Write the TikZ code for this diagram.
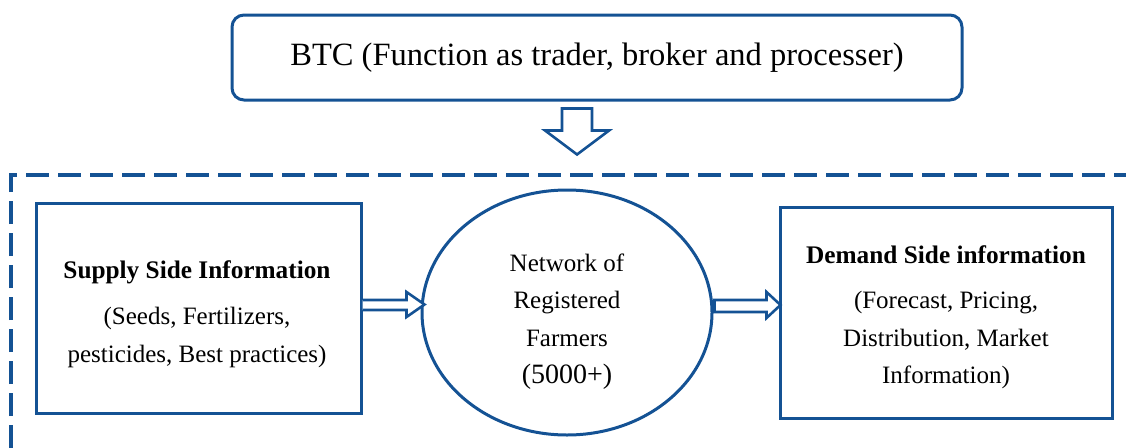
\documentclass[tikz,border=0pt]{standalone}
\usepackage{fontspec}
\setmainfont{Liberation Serif}
\usetikzlibrary{shapes.geometric,calc}
\definecolor{bblue}{RGB}{20,82,148}
\tikzset{
  box/.style={draw=bblue, line width=3pt, rectangle, inner sep=0pt, align=center},
  blockarrow/.style={draw=bblue, line width=2.6pt, fill=white, line join=miter},
  bodytext/.style={font=\fontsize{25}{37.5}\selectfont},
  headtext/.style={font=\bfseries\fontsize{25.3}{28}\selectfont}
}
\begin{document}
\begin{tikzpicture}[x=1pt,y=-1pt]
\useasboundingbox (0,0) rectangle (1126,447);
\clip (0,0) rectangle (1126,447);
% dashed frame
\coordinate (fr) at (11,175);
\draw[bblue, line width=3.4pt, dash pattern=on 23pt off 9pt] (11,480) -- (fr) -- (1150,175);
% top box
\node[box, rounded corners=12pt, minimum width=730pt, minimum height=85pt,
      font=\fontsize{32.5}{36}\selectfont] (btc) at (597,57.5)
  {BTC (Function as trader, broker and processer)};
% supply box
\node[box, minimum width=325pt, minimum height=210pt] (sup) at (198.5,308) {};
\node[headtext] (supt) at (197,272) {Supply Side Information};
\node[bodytext, align=center] (supb) at (197,337.5) {(Seeds, Fertilizers,\\pesticides, Best practices)};
% ellipse
\node[ellipse, draw=bblue, line width=3pt, minimum width=290pt, minimum height=245pt, inner sep=0pt] (net) at (567,312.5) {};
\node[bodytext, align=center] (nett) at (567,300) {Network of\\Registered\\Farmers};
\node[font=\fontsize{28}{32}\selectfont] (netn) at (567,377) {(5000+)};
% demand box
\node[box, minimum width=332pt, minimum height=211pt] (dem) at (946,312.5) {};
\node[headtext] (demt) at (946,255) {Demand Side information};
\node[bodytext, align=center] (demb) at (946,340) {(Forecast, Pricing,\\Distribution, Market\\Information)};
% down arrow
\coordinate (da) at ($(btc.south)+(-20,0)$);
\draw[blockarrow] ($(da)+(-15,7)$) -- ($(da)+(15,7)$) -- ($(da)+(15,29)$)
  -- ($(da)+(32,29)$) -- ($(da)+(0,53)$) -- ($(da)+(-32,29)$)
  -- ($(da)+(-15,29)$) -- cycle;
% arrow supply -> network
\coordinate (a1) at (sup.east -| net.west);
\draw[blockarrow] ($(sup.east)+(0,-8)$) -- ($(a1)+(-14,-8)$) -- ($(a1)+(-14,-16)$)
  -- ($(a1)+(4,-3.5)$) -- ($(a1)+(-14,9)$) -- ($(a1)+(-14,2)$) -- ($(sup.east)+(0,2)$);
% arrow network -> demand
\draw[blockarrow] ($(net.east)+(1,-12.5)$) -- ($(dem.west)+(-12,-12.5)$) -- ($(dem.west)+(-12,-20.5)$)
  -- ($(dem.west)+(2,-7.5)$) -- ($(dem.west)+(-12,5.5)$) -- ($(dem.west)+(-12,-0.5)$) -- ($(net.east)+(1,-0.5)$) -- cycle;
\end{tikzpicture}
\end{document}
